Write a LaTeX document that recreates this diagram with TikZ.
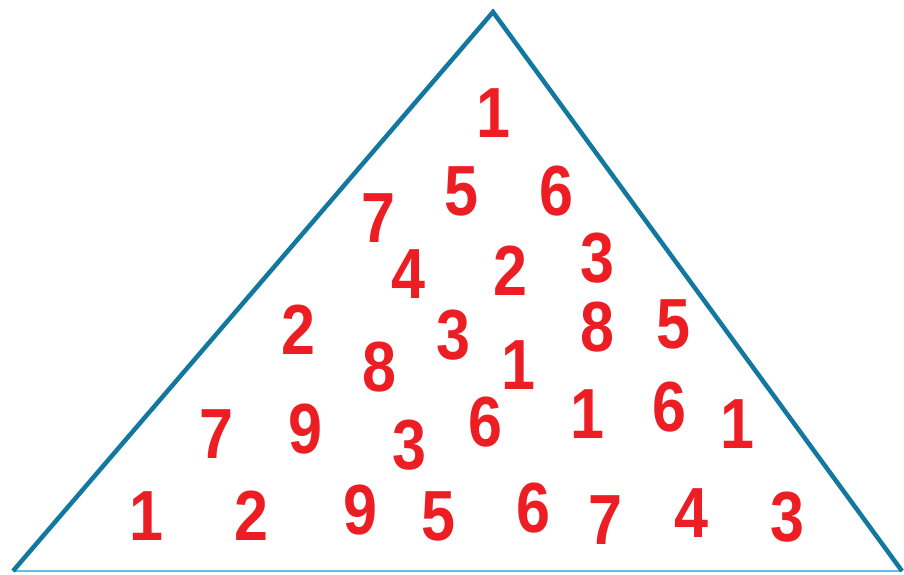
\documentclass[tikz,border=0pt]{standalone}
\usepackage{fontspec}
\setmainfont{Liberation Sans}
\definecolor{edgeblue}{RGB}{18,120,160}
\definecolor{baseblue}{RGB}{110,185,225}
\definecolor{numred}{RGB}{236,30,36}

\begin{document}
\begin{tikzpicture}[x=1pt, y=-1pt,
    digit/.style={text=numred, inner sep=0pt, xscale=0.86, font=\fontsize{71}{71}\selectfont\bfseries}]
    \useasboundingbox (0,0) rectangle (904,575);

    \coordinate (top) at (493,12);
    \coordinate (bl) at (13,571);
    \coordinate (br) at (902,571);

    \draw[baseblue, line width=2.2pt] (bl) -- (br);
    \draw[edgeblue, line width=4.5pt, line join=miter] (bl) -- (top) -- (br);

    % row 1
    \node[digit] (a1) at (493,113) {1};
    % row 2
    \node[digit] (b1) at (378,218) {7};
    \node[digit] (b2) at (461,191) {5};
    \node[digit] (b3) at (556,191) {6};
    % row 3
    \node[digit] (c1) at (408,274) {4};
    \node[digit] (c2) at (510,271) {2};
    \node[digit] (c3) at (597,258) {3};
    % row 4
    \node[digit] (d1) at (298,330) {2};
    \node[digit] (d2) at (379,367) {8};
    \node[digit] (d3) at (453,335) {3};
    \node[digit] (d4) at (518,365) {1};
    \node[digit] (d5) at (597,327) {8};
    \node[digit] (d6) at (673,324) {5};
    % row 5
    \node[digit] (e1) at (216,434) {7};
    \node[digit] (e2) at (305,429) {9};
    \node[digit] (e3) at (409,445) {3};
    \node[digit] (e4) at (485,422) {6};
    \node[digit] (e5) at (587,414) {1};
    \node[digit] (e6) at (669,407) {6};
    \node[digit] (e7) at (737,424) {1};
    % row 6
    \node[digit] (f1) at (146,516) {1};
    \node[digit] (f2) at (251,516) {2};
    \node[digit] (f3) at (360,510) {9};
    \node[digit] (f4) at (438,516) {5};
    \node[digit] (f5) at (533,508) {6};
    \node[digit] (f6) at (605,520) {7};
    \node[digit] (f7) at (691,513) {4};
    \node[digit] (f8) at (787,517) {3};
\end{tikzpicture}
\end{document}
